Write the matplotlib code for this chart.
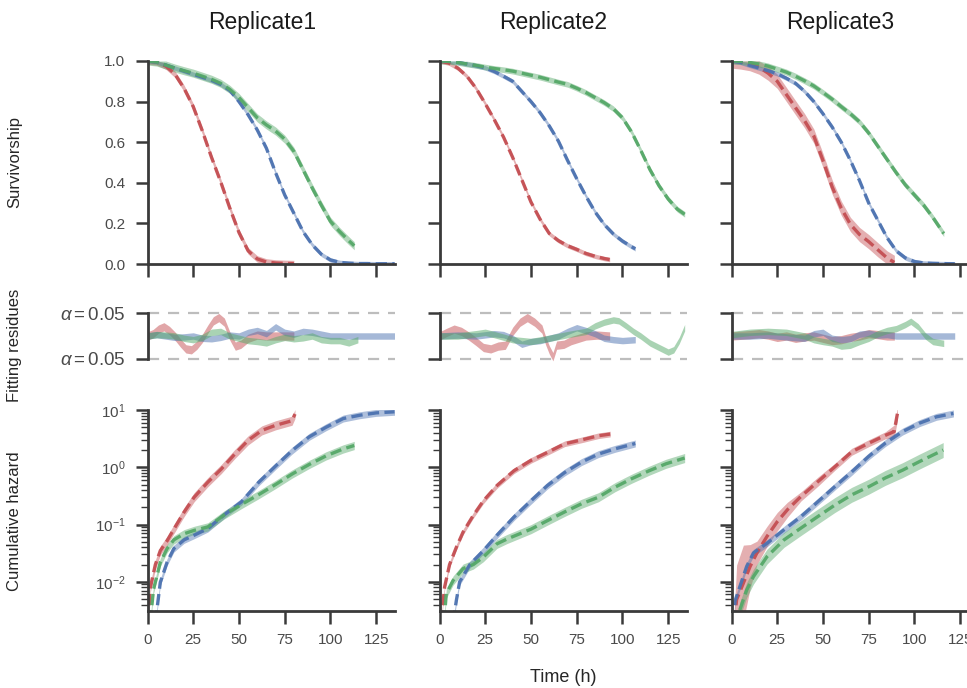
import numpy as np
import matplotlib
matplotlib.use("Agg")
import matplotlib.pyplot as plt
from matplotlib.ticker import LogLocator, NullFormatter

plt.rcParams["font.family"] = ["Liberation Sans", "DejaVu Sans"]
plt.rcParams["mathtext.fontset"] = "custom"
plt.rcParams["mathtext.rm"] = "Liberation Sans"
plt.rcParams["mathtext.it"] = "Liberation Sans:italic"

REPLICATES = ["Replicate1", "Replicate2", "Replicate3"]
STRAINS = ["red", "blue", "green"]
COLORS = {"red": "#C44E52", "blue": "#4C72B0", "green": "#55A868"}

# ---- survivorship (5 h grid, last point at end of observation) ----
r1_red_t = [0, 5, 10, 15, 20, 25, 30, 35, 40, 45, 50, 55, 60, 65, 70, 75, 80]
r1_red_s = [1.0, 0.995, 0.975, 0.935, 0.865, 0.775, 0.655, 0.525, 0.405, 0.275, 0.155,
            0.065, 0.025, 0.01, 0.005, 0.003, 0.002]
r1_blue_t = [0, 5, 10, 15, 20, 25, 30, 35, 40, 45, 50, 55, 60, 65, 70, 75, 80, 85, 90,
             95, 100, 105, 110, 115, 120, 125, 130, 135]
r1_blue_s = [1.0, 0.995, 0.98, 0.965, 0.95, 0.935, 0.92, 0.905, 0.885, 0.855, 0.8, 0.735,
             0.66, 0.57, 0.45, 0.34, 0.25, 0.16, 0.095, 0.048, 0.02, 0.008, 0.004, 0.002,
             0.002, 0.001, 0.001, 0.001]
r1_green_t = [0, 5, 10, 15, 20, 25, 30, 35, 40, 45, 50, 55, 60, 65, 70, 75, 80, 85, 90,
              95, 100, 105, 110, 113]
r1_green_s = [1.0, 0.995, 0.98, 0.965, 0.952, 0.94, 0.925, 0.91, 0.89, 0.86, 0.82, 0.77,
              0.72, 0.685, 0.655, 0.615, 0.555, 0.465, 0.375, 0.29, 0.21, 0.16, 0.115, 0.09]

r2_red_t = [0, 5, 10, 15, 20, 25, 30, 35, 40, 45, 50, 55, 60, 65, 70, 75, 80, 85, 90, 93]
r2_red_s = [1.0, 0.99, 0.965, 0.925, 0.865, 0.79, 0.71, 0.625, 0.525, 0.415, 0.305, 0.22,
            0.15, 0.115, 0.09, 0.072, 0.052, 0.038, 0.027, 0.022]
r2_blue_t = [0, 5, 10, 15, 20, 25, 30, 35, 40, 45, 50, 55, 60, 65, 70, 75, 80, 85, 90, 95,
             100, 105, 107]
r2_blue_s = [1.0, 0.998, 0.993, 0.985, 0.977, 0.966, 0.948, 0.925, 0.9, 0.85, 0.8, 0.745,
             0.68, 0.605, 0.51, 0.42, 0.335, 0.257, 0.195, 0.148, 0.113, 0.085, 0.075]
r2_green_t = [0, 5, 10, 15, 20, 25, 30, 35, 40, 45, 50, 55, 60, 65, 70, 75, 80, 85, 90, 95,
              100, 105, 110, 115, 120, 125, 130, 134]
r2_green_s = [1.0, 0.998, 0.993, 0.985, 0.978, 0.97, 0.963, 0.957, 0.95, 0.94, 0.93, 0.92,
              0.908, 0.896, 0.885, 0.866, 0.845, 0.82, 0.795, 0.765, 0.72, 0.65, 0.56, 0.465,
              0.385, 0.32, 0.27, 0.245]

r3_red_t = [0, 5, 10, 15, 20, 25, 30, 35, 40, 45, 50, 55, 60, 65, 70, 75, 80, 85, 89]
r3_red_s = [1.0, 0.995, 0.987, 0.97, 0.94, 0.9, 0.835, 0.77, 0.705, 0.63, 0.51, 0.38,
            0.275, 0.195, 0.145, 0.11, 0.07, 0.03, 0.008]
r3_blue_t = [0, 5, 10, 15, 20, 25, 30, 35, 40, 45, 50, 55, 60, 65, 70, 75, 80, 85, 90, 95,
             100, 105, 110, 115, 122]
r3_blue_s = [1.0, 0.993, 0.978, 0.965, 0.952, 0.937, 0.915, 0.89, 0.85, 0.8, 0.74, 0.675,
             0.6, 0.51, 0.41, 0.3, 0.215, 0.13, 0.065, 0.03, 0.012, 0.005, 0.003, 0.002, 0.001]
r3_green_t = [0, 5, 10, 15, 20, 25, 30, 35, 40, 45, 50, 55, 60, 65, 70, 75, 80, 85, 90, 95,
              100, 105, 110, 116]
r3_green_s = [1.0, 0.998, 0.993, 0.985, 0.975, 0.96, 0.945, 0.925, 0.902, 0.877, 0.845,
              0.812, 0.775, 0.74, 0.7, 0.645, 0.58, 0.515, 0.45, 0.39, 0.34, 0.29, 0.23, 0.15]

# survivorship confidence half-widths
SURV_ERR = {
    "Replicate1": {"red": 0.016, "blue": 0.011, "green": 0.02},
    "Replicate2": {"red": 0.011, "blue": 0.011, "green": 0.014},
    "Replicate3": {"red": 0.035, "blue": 0.011, "green": 0.015},
}

# ---- fitting residues ----
r1_red_rt = [0, 3, 6, 9, 12, 15, 18, 21, 24, 27, 30, 33, 36, 39, 42, 45, 48, 51, 55, 60, 65,
             70, 75, 80]
r1_red_r = [0, 0.005, 0.015, 0.02, 0.012, 0.0, -0.015, -0.028, -0.03, -0.02, -0.005, 0.015,
            0.033, 0.04, 0.03, 0.0, -0.022, -0.018, -0.005, 0.002, 0.0, 0.0, 0.0, 0.0]
r1_blue_rt = [0, 5, 10, 15, 20, 25, 30, 35, 40, 45, 50, 55, 60, 65, 70, 75, 80, 85, 90, 95,
              100, 110, 120, 135]
r1_blue_r = [0, 0.003, 0.0, -0.003, -0.002, 0.0, -0.005, -0.006, -0.003, 0.002, 0.0, 0.008,
             0.012, 0.005, 0.02, 0.008, 0.004, 0.01, 0.008, 0.004, 0.0, 0.0, 0.0, 0.0]
r1_green_rt = [0, 5, 10, 15, 20, 25, 30, 35, 40, 45, 50, 55, 60, 65, 70, 75, 80, 85, 90, 95,
               100, 105, 110, 115]
r1_green_r = [0, 0.003, 0.002, 0.0, -0.005, -0.008, -0.003, 0.008, 0.01, 0.0, -0.005, -0.01,
              -0.012, -0.015, -0.008, -0.003, -0.006, -0.004, 0.0, -0.008, -0.01, -0.01,
              -0.015, -0.008]

r2_red_rt = [0, 4, 8, 12, 16, 20, 24, 28, 32, 36, 40, 44, 48, 52, 56, 58, 60, 62, 64, 68, 72,
             76, 80, 86, 93]
r2_red_r = [0, 0.008, 0.015, 0.01, 0.0, -0.012, -0.025, -0.028, -0.022, -0.02, 0.01, 0.03,
            0.04, 0.03, 0.015, -0.01, -0.03, -0.045, -0.02, -0.018, -0.01, -0.005, 0.0,
            0.002, 0.0]
r2_blue_rt = [0, 10, 20, 30, 35, 40, 45, 50, 55, 60, 65, 70, 75, 80, 85, 90, 95, 100, 107]
r2_blue_r = [0, 0.002, 0.0, 0.005, 0.003, -0.005, -0.018, -0.012, -0.01, -0.005, 0.0, 0.01,
             0.018, 0.012, 0.005, -0.005, -0.008, -0.01, -0.008]
r2_green_rt = [0, 10, 20, 25, 30, 40, 50, 60, 70, 80, 85, 90, 95, 98, 102, 106, 110, 115, 120,
               125, 128, 131, 134]
r2_green_r = [0, 0.0, 0.005, 0.008, 0.003, -0.008, -0.012, -0.005, 0.003, 0.01, 0.022, 0.03,
              0.035, 0.033, 0.022, 0.01, 0.0, -0.015, -0.025, -0.035, -0.03, -0.01, 0.018]

r3_red_rt = [0, 10, 15, 20, 25, 30, 35, 40, 45, 50, 55, 60, 65, 70, 75, 80, 85, 89]
r3_red_r = [0, 0.003, 0.005, 0.002, -0.003, 0.0, -0.005, -0.002, 0.0, -0.005, -0.01, -0.008,
            -0.003, 0.0, 0.005, 0.003, 0.0, 0.0]
r3_blue_rt = [0, 10, 20, 30, 40, 45, 50, 55, 60, 65, 70, 75, 80, 85, 90, 95, 100, 110, 122]
r3_blue_r = [0, 0.0, 0.002, -0.002, -0.005, 0.005, 0.008, -0.005, -0.008, -0.006, 0.004,
             0.006, 0.002, 0.003, 0.0, 0.0, 0.0, 0.0, 0.0]
r3_green_rt = [0, 10, 20, 30, 40, 45, 50, 55, 60, 65, 70, 75, 80, 85, 90, 95, 98, 102, 106,
               110, 116]
r3_green_r = [0.003, 0.008, 0.01, 0.008, 0.0, -0.008, -0.012, -0.015, -0.022, -0.02, -0.012,
              -0.005, 0.005, 0.012, 0.016, 0.025, 0.032, 0.02, 0.0, -0.012, -0.016]

RESID_ERR = {"red": 0.009, "blue": 0.007, "green": 0.007}

# ---- cumulative hazard ----
r1_red_ht = [0.5, 1.5, 4.3, 7, 10.7, 14.4, 20, 25.5, 33, 40.3, 47.7, 55, 62.5, 70, 79, 80.6]
r1_red_h = [0.002, 0.0078, 0.02, 0.035, 0.052, 0.083, 0.165, 0.30, 0.55, 0.93, 1.7, 2.95,
            4.4, 5.4, 6.5, 8.5]
r1_blue_ht = [4.5, 5.5, 7, 10.7, 14.4, 20, 25.5, 33, 42, 51.4, 60.6, 70, 79, 88.4, 97.6, 107,
              116, 125, 135]
r1_blue_h = [0.002, 0.004, 0.0098, 0.022, 0.038, 0.054, 0.065, 0.085, 0.148, 0.25, 0.54,
             1.05, 1.95, 3.4, 5.0, 7.1, 8.1, 8.9, 9.3]
r1_green_ht = [1.5, 3.3, 7, 10.7, 14.4, 20, 25.5, 33, 42, 51.4, 60.6, 70, 79, 88.4, 97.6,
               107, 113]
r1_green_h = [0.002, 0.0074, 0.022, 0.038, 0.054, 0.069, 0.079, 0.091, 0.148, 0.224, 0.33,
              0.5, 0.76, 1.12, 1.58, 2.09, 2.4]

r2_red_ht = [0.8, 2.8, 5.5, 9.2, 12.9, 18.5, 24, 31.4, 40.7, 50, 59, 68.4, 77.6, 86.9, 93.3]
r2_red_h = [0.002, 0.0081, 0.02, 0.04, 0.074, 0.145, 0.26, 0.48, 0.87, 1.32, 1.82, 2.57,
            3.0, 3.55, 3.8]
r2_blue_ht = [7.5, 9.2, 11, 16.6, 24, 31.4, 40.7, 50, 59, 68.4, 77.6, 86.9, 96, 107]
r2_blue_h = [0.002, 0.0047, 0.01, 0.02, 0.035, 0.065, 0.135, 0.26, 0.48, 0.81, 1.23, 1.7,
             2.1, 2.6]
r2_green_ht = [2.5, 3.7, 7.4, 12.9, 18.5, 24, 31.4, 37, 50, 59, 68.4, 77.6, 86.9, 96, 105,
               114.6, 123.8, 134]
r2_green_h = [0.002, 0.0062, 0.0105, 0.017, 0.020, 0.027, 0.046, 0.056, 0.083, 0.117, 0.166,
              0.23, 0.30, 0.45, 0.63, 0.87, 1.15, 1.45]

r3_red_ht = [1.5, 2.8, 6.5, 10.2, 13.9, 19.4, 25, 30.6, 38, 47.2, 56.5, 65.7, 75, 84, 88.9,
             90.7]
r3_red_h = [0.002, 0.0049, 0.0095, 0.0186, 0.032, 0.062, 0.112, 0.182, 0.31, 0.56, 1.02,
            1.86, 2.63, 3.6, 4.2, 8.7]
r3_blue_ht = [1.2, 1.9, 4.6, 8.3, 12, 19.4, 28.7, 38, 47.2, 56.5, 65.7, 75, 84, 93.5, 102.8,
              112, 121.3]
r3_blue_h = [0.002, 0.0046, 0.0083, 0.0186, 0.032, 0.047, 0.081, 0.138, 0.25, 0.46, 0.83,
             1.55, 2.63, 4.2, 5.9, 7.6, 8.7]
r3_green_ht = [4.5, 8.3, 12, 19.4, 28.7, 38, 47.2, 56.5, 65.7, 75, 84, 93.5, 102.8, 115.7]
r3_green_h = [0.0032, 0.0072, 0.0123, 0.0275, 0.054, 0.087, 0.138, 0.219, 0.33, 0.457, 0.65,
              0.89, 1.26, 2.0]

# multiplicative confidence spread of the hazard estimate
r3_red_hspread = [1.5, 4.0, 4.6, 2.4, 1.6, 1.5, 1.45, 1.35, 1.2, 1.2, 1.15, 1.15, 1.15, 1.15,
                  1.3, 1.3]
HAZ_SPREAD = {
    "Replicate1": {"red": 1.2, "blue": 1.15, "green": 1.18},
    "Replicate2": {"red": 1.12, "blue": 1.15, "green": 1.2},
    "Replicate3": {"red": r3_red_hspread, "blue": 1.15, "green": 1.35},
}

SURV = {
    "Replicate1": {"red": (r1_red_t, r1_red_s), "blue": (r1_blue_t, r1_blue_s),
                   "green": (r1_green_t, r1_green_s)},
    "Replicate2": {"red": (r2_red_t, r2_red_s), "blue": (r2_blue_t, r2_blue_s),
                   "green": (r2_green_t, r2_green_s)},
    "Replicate3": {"red": (r3_red_t, r3_red_s), "blue": (r3_blue_t, r3_blue_s),
                   "green": (r3_green_t, r3_green_s)},
}
RESID = {
    "Replicate1": {"red": (r1_red_rt, r1_red_r), "blue": (r1_blue_rt, r1_blue_r),
                   "green": (r1_green_rt, r1_green_r)},
    "Replicate2": {"red": (r2_red_rt, r2_red_r), "blue": (r2_blue_rt, r2_blue_r),
                   "green": (r2_green_rt, r2_green_r)},
    "Replicate3": {"red": (r3_red_rt, r3_red_r), "blue": (r3_blue_rt, r3_blue_r),
                   "green": (r3_green_rt, r3_green_r)},
}
HAZ = {
    "Replicate1": {"red": (r1_red_ht, r1_red_h), "blue": (r1_blue_ht, r1_blue_h),
                   "green": (r1_green_ht, r1_green_h)},
    "Replicate2": {"red": (r2_red_ht, r2_red_h), "blue": (r2_blue_ht, r2_blue_h),
                   "green": (r2_green_ht, r2_green_h)},
    "Replicate3": {"red": (r3_red_ht, r3_red_h), "blue": (r3_blue_ht, r3_blue_h),
                   "green": (r3_green_ht, r3_green_h)},
}

X_TICKS = [0, 25, 50, 75, 100, 125]
S_TICKS = [0.0, 0.2, 0.4, 0.6, 0.8, 1.0]
ALPHA_LEVEL = 0.05

# ---- layout (pixels on a 967 x 688 canvas) ----
W, H = 967, 688
fig = plt.figure(figsize=(W / 100, H / 100), dpi=100)
col_left = [147.5, 439.5, 731.5]
ax_w = 247
rows = {"surv": (61, 264), "resid": (300, 372), "haz": (410, 611)}

TICK_COLOR = "#4a4a4a"
LABEL_COLOR = "#262626"


def add_axes(left, top, bottom):
    return fig.add_axes([left / W, 1 - bottom / H, ax_w / W, (bottom - top) / H])


def style(ax):
    for s in ("top", "right"):
        ax.spines[s].set_visible(False)
    for s in ("left", "bottom"):
        ax.spines[s].set_linewidth(2.0)
        ax.spines[s].set_color("#3a3a3a")
    ax.tick_params(which="major", length=9, width=1.8, color="#3a3a3a", pad=7,
                   labelsize=11, labelcolor=TICK_COLOR)
    ax.tick_params(which="minor", length=5, width=1.0, color="#3a3a3a")


ylab_x = 22 / W
for ci, rep in enumerate(REPLICATES):
    left = col_left[ci]
    ax_s = add_axes(left, *rows["surv"])
    ax_r = add_axes(left, *rows["resid"])
    ax_h = add_axes(left, *rows["haz"])

    for strain in STRAINS:
        c = COLORS[strain]
        t, s = (np.asarray(v, float) for v in SURV[rep][strain])
        e = SURV_ERR[rep][strain]
        ax_s.fill_between(t, np.clip(s - e, 0, 1), np.clip(s + e, 0, 1), color=c,
                          alpha=0.45, lw=0)
        ax_s.plot(t, s, color=c, lw=2.4, ls=(0, (3.4, 1.6)), alpha=0.95)

        rt, rv = (np.asarray(v, float) for v in RESID[rep][strain])
        re = RESID_ERR[strain]
        ax_r.fill_between(rt, rv - re, rv + re, color=c, alpha=0.5, lw=0)

        ht, hv = (np.asarray(v, float) for v in HAZ[rep][strain])
        sp = np.asarray(HAZ_SPREAD[rep][strain], float)
        ax_h.fill_between(ht, hv / sp, hv * sp, color=c, alpha=0.45, lw=0)
        ax_h.plot(ht, hv, color=c, lw=2.4, ls=(0, (3.4, 1.6)), alpha=0.95)

    # survivorship panel
    style(ax_s)
    ax_s.set_xlim(0, 135)
    ax_s.set_ylim(0, 1)
    ax_s.set_xticks(X_TICKS)
    ax_s.set_xticklabels([])
    ax_s.set_yticks(S_TICKS)
    if ci == 0:
        ax_s.set_yticklabels([f"{v:.1f}" for v in S_TICKS])
        ax_s.set_ylabel("Survivorship", fontsize=12, color=LABEL_COLOR)
        ax_s.yaxis.set_label_coords(ylab_x, 1 - 162.5 / H, transform=fig.transFigure)
    else:
        ax_s.set_yticklabels([])

    # residue panel
    style(ax_r)
    ax_r.spines["bottom"].set_visible(False)
    ax_r.set_xlim(0, 135)
    ax_r.set_ylim(-0.0783, 0.0783)
    ax_r.spines["left"].set_bounds(-ALPHA_LEVEL, ALPHA_LEVEL)
    ax_r.set_xticks([])
    ax_r.set_yticks([ALPHA_LEVEL, -ALPHA_LEVEL])
    for yv in (ALPHA_LEVEL, -ALPHA_LEVEL):
        ax_r.axhline(yv, color="#bdbdbd", lw=1.6, ls=(0, (5, 4)), zorder=0)
    if ci == 0:
        ax_r.set_yticklabels([r"$\alpha = 0.05$", r"$\alpha = 0.05$"], fontsize=13.5)
        ax_r.set_ylabel("Fitting residues", fontsize=12, color=LABEL_COLOR)
        ax_r.yaxis.set_label_coords(ylab_x, 1 - 345 / H, transform=fig.transFigure)
    else:
        ax_r.set_yticklabels([])

    # cumulative hazard panel
    style(ax_h)
    ax_h.set_yscale("log")
    ax_h.set_xlim(0, 135)
    ax_h.set_ylim(10 ** -2.51, 10)
    ax_h.set_xticks(X_TICKS)
    ax_h.set_xticklabels([str(v) for v in X_TICKS])
    ax_h.yaxis.set_major_locator(LogLocator(base=10, numticks=10))
    ax_h.yaxis.set_minor_locator(LogLocator(base=10, subs=np.arange(2, 10), numticks=20))
    ax_h.yaxis.set_minor_formatter(NullFormatter())
    if ci == 0:
        ax_h.set_ylabel("Cumulative hazard", fontsize=12, color=LABEL_COLOR)
        ax_h.yaxis.set_label_coords(ylab_x, 1 - 521 / H, transform=fig.transFigure)
    else:
        ax_h.yaxis.set_major_formatter(NullFormatter())
    if ci == 1:
        ax_h.set_xlabel("Time (h)", fontsize=13, color=LABEL_COLOR, labelpad=16)

# column titles
title_x = [262, 553, 840]
for rep, tx in zip(REPLICATES, title_x):
    fig.text(tx / W, 1 - 23 / H, rep, ha="center", va="center", fontsize=16.5,
             color="#1a1a1a")

fig.savefig("out.png", dpi=100)
